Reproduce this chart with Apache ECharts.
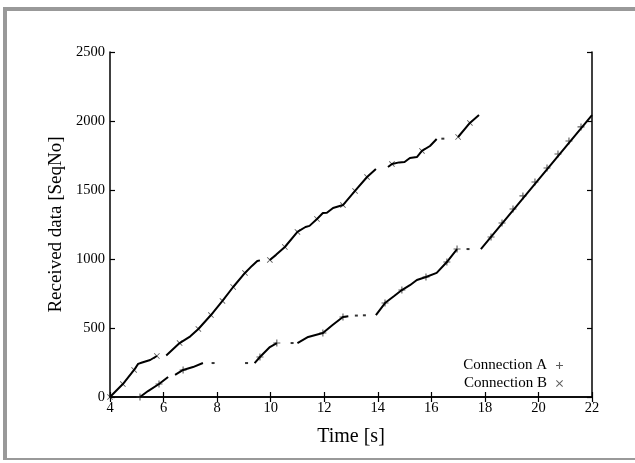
<!DOCTYPE html>
<html>
<head>
<meta charset="utf-8">
<script src="https://cdn.jsdelivr.net/npm/echarts@6/dist/echarts.min.js"></script>
<style>
  html, body { margin: 0; padding: 0; background: #fff; }
  #frame {
    position: absolute; left: 3px; top: 7px; width: 632px; height: 453px;
    border-left: 4px solid #999; border-top: 4px solid #999; border-bottom: 2px solid #999;
    box-sizing: border-box;
  }
  #chart { position: absolute; left: 0; top: 0; width: 635px; height: 463px; }
</style>
</head>
<body>
<div id="frame"></div>
<div id="chart"></div>
<script>
// axis ticks
var xTicks = [4, 6, 8, 10, 12, 14, 16, 18, 20, 22];
var yTicks = [0, 500, 1000, 1500, 2000, 2500];

// Connection A (lower trace): continuous pieces [time, seqno]
var connASegments = [
  [[5.12, 0], [5.42, 43], [5.83, 94], [6.17, 145]],
  [[6.43, 160], [6.73, 196], [7.1, 217], [7.47, 246]],
  [[9.4, 246], [9.6, 290], [9.97, 362], [10.23, 391]],
  [[11.0, 391], [11.4, 435], [11.95, 464], [12.3, 520], [12.6, 565], [12.7, 580], [12.9, 585]],
  [[13.93, 594], [14.27, 681], [14.6, 730], [14.9, 775], [15.2, 810], [15.46, 848], [15.8, 870], [16.2, 899], [16.58, 978], [16.96, 1072]],
  [[17.85, 1072], [22.0, 2043]]
];
var connADots = [[7.85, 246], [9.1, 246], [10.8, 391], [13.2, 590], [13.5, 592], [17.37, 1072]];
var connAMarks = [
  [5.12, 0], [5.83, 94], [6.73, 196], [9.6, 290], [10.23, 391], [11.95, 464], [12.7, 580],
  [14.27, 681], [14.9, 775], [15.8, 870], [16.58, 978], [16.96, 1072],
  [18.23, 1159], [18.64, 1261], [19.05, 1362], [19.42, 1457], [19.87, 1558],
  [20.32, 1659], [20.73, 1761], [21.14, 1855], [21.59, 1957]
];

// Connection B (upper trace)
var connBSegments = [
  [[4.0, 0], [4.48, 94], [4.9, 196], [5.05, 240], [5.2, 250], [5.5, 268], [5.75, 297]],
  [[6.1, 300], [6.6, 391], [7.0, 440], [7.3, 493], [7.77, 594], [8.2, 696], [8.6, 797], [9.04, 899], [9.3, 950], [9.5, 985], [9.6, 990]],
  [[9.97, 993], [10.2, 1030], [10.53, 1087], [11.0, 1196], [11.3, 1232], [11.45, 1240], [11.73, 1290], [11.95, 1333], [12.1, 1335],
   [12.33, 1370], [12.7, 1391], [13.15, 1493], [13.6, 1594], [13.93, 1652]],
  [[14.38, 1667], [14.53, 1688], [14.8, 1700], [15.0, 1703], [15.2, 1732], [15.46, 1739], [15.65, 1783], [15.95, 1819], [16.2, 1870]],
  [[17.0, 1884], [17.44, 1986], [17.78, 2043]]
];
var connBDots = [[16.43, 1872]];
var connBMarks = [
  [4.0, 0], [4.48, 94], [4.9, 196], [5.75, 297], [6.6, 391], [7.3, 493], [7.77, 594],
  [8.2, 696], [8.6, 797], [9.04, 899], [9.97, 993], [10.53, 1087], [11.0, 1196],
  [11.73, 1290], [12.7, 1391], [13.15, 1493], [13.6, 1594], [14.53, 1688],
  [15.65, 1783], [17.0, 1884], [17.44, 1986]
];

var plusPath = 'path://M4.2,0H5.8V4.2H10V5.8H5.8V10H4.2V5.8H0V4.2H4.2Z';
var crossPath = 'path://M1,0L5,4L9,0L10,1L6,5L10,9L9,10L5,6L1,10L0,9L4,5L0,1Z';

// join pieces with breaks so the line is not drawn across gaps
function joinSegments(segs) {
  var out = [];
  segs.forEach(function (s, i) {
    if (i > 0) out.push([s[0][0] - 0.01, null]);
    s.forEach(function (p) { out.push(p); });
  });
  return out;
}

var serif = 'Liberation Serif, Times New Roman, serif';
var chart = echarts.init(document.getElementById('chart'));

var axisLine = { show: true, lineStyle: { color: '#000', width: 1.5 } };
var axisTick = { show: true, inside: true, length: 5, lineStyle: { color: '#000', width: 1.2 } };

var option = {
  animation: false,
  backgroundColor: 'transparent',
  grid: { left: 110, right: 43, top: 52, bottom: 66 },
  legend: {
    orient: 'vertical',
    right: 67,
    top: 353,
    align: 'right',
    itemWidth: 7,
    itemHeight: 7,
    itemGap: 3,
    textStyle: { fontFamily: serif, fontSize: 15, color: '#000', padding: [0, 4, 0, 0] },
    data: ['Connection A', 'Connection B']
  },
  xAxis: [
    {
      type: 'value', min: 4, max: 22, interval: 2,
      name: 'Time [s]', nameLocation: 'middle', nameGap: 30,
      nameTextStyle: { fontFamily: serif, fontSize: 20, color: '#000' },
      axisLine: axisLine, axisTick: axisTick, splitLine: { show: false },
      axisLabel: {
        fontFamily: serif, fontSize: 14.5, color: '#000', margin: 4,
        customValues: xTicks,
        formatter: function (v) { return String(v); }
      }
    },
    {
      type: 'value', position: 'top', min: 4, max: 22, interval: 2,
      axisLine: axisLine, axisTick: axisTick, splitLine: { show: false },
      axisLabel: { show: false }
    }
  ],
  yAxis: [
    {
      type: 'value', min: 0, max: 2500, interval: 500,
      name: 'Received data [SeqNo]', nameLocation: 'middle', nameGap: 38,
      nameTextStyle: { fontFamily: serif, fontSize: 19, color: '#000' },
      axisLine: axisLine, axisTick: axisTick, splitLine: { show: false },
      axisLabel: {
        fontFamily: serif, fontSize: 14.5, color: '#000', margin: 5,
        customValues: yTicks,
        formatter: function (v) { return String(v); }
      }
    },
    {
      type: 'value', position: 'right', min: 0, max: 2500, interval: 500,
      axisLine: axisLine, axisTick: axisTick, splitLine: { show: false },
      axisLabel: { show: false }
    }
  ],
  series: [
    {
      name: 'A trace', type: 'line', data: joinSegments(connASegments),
      showSymbol: false, connectNulls: false, silent: true,
      lineStyle: { color: '#000', width: 2 }
    },
    {
      name: 'B trace', type: 'line', data: joinSegments(connBSegments),
      showSymbol: false, connectNulls: false, silent: true,
      lineStyle: { color: '#000', width: 2 }
    },
    {
      name: 'dots', type: 'scatter', data: connADots.concat(connBDots),
      symbol: 'rect', symbolSize: [3, 2], itemStyle: { color: '#000' }, silent: true
    },
    {
      name: 'Connection A', type: 'scatter', data: connAMarks,
      symbol: plusPath, symbolSize: 7, itemStyle: { color: '#333' }
    },
    {
      name: 'Connection B', type: 'scatter', data: connBMarks,
      symbol: crossPath, symbolSize: 6, itemStyle: { color: '#333' }
    }
  ]
};

chart.setOption(option);
</script>
</body>
</html>
